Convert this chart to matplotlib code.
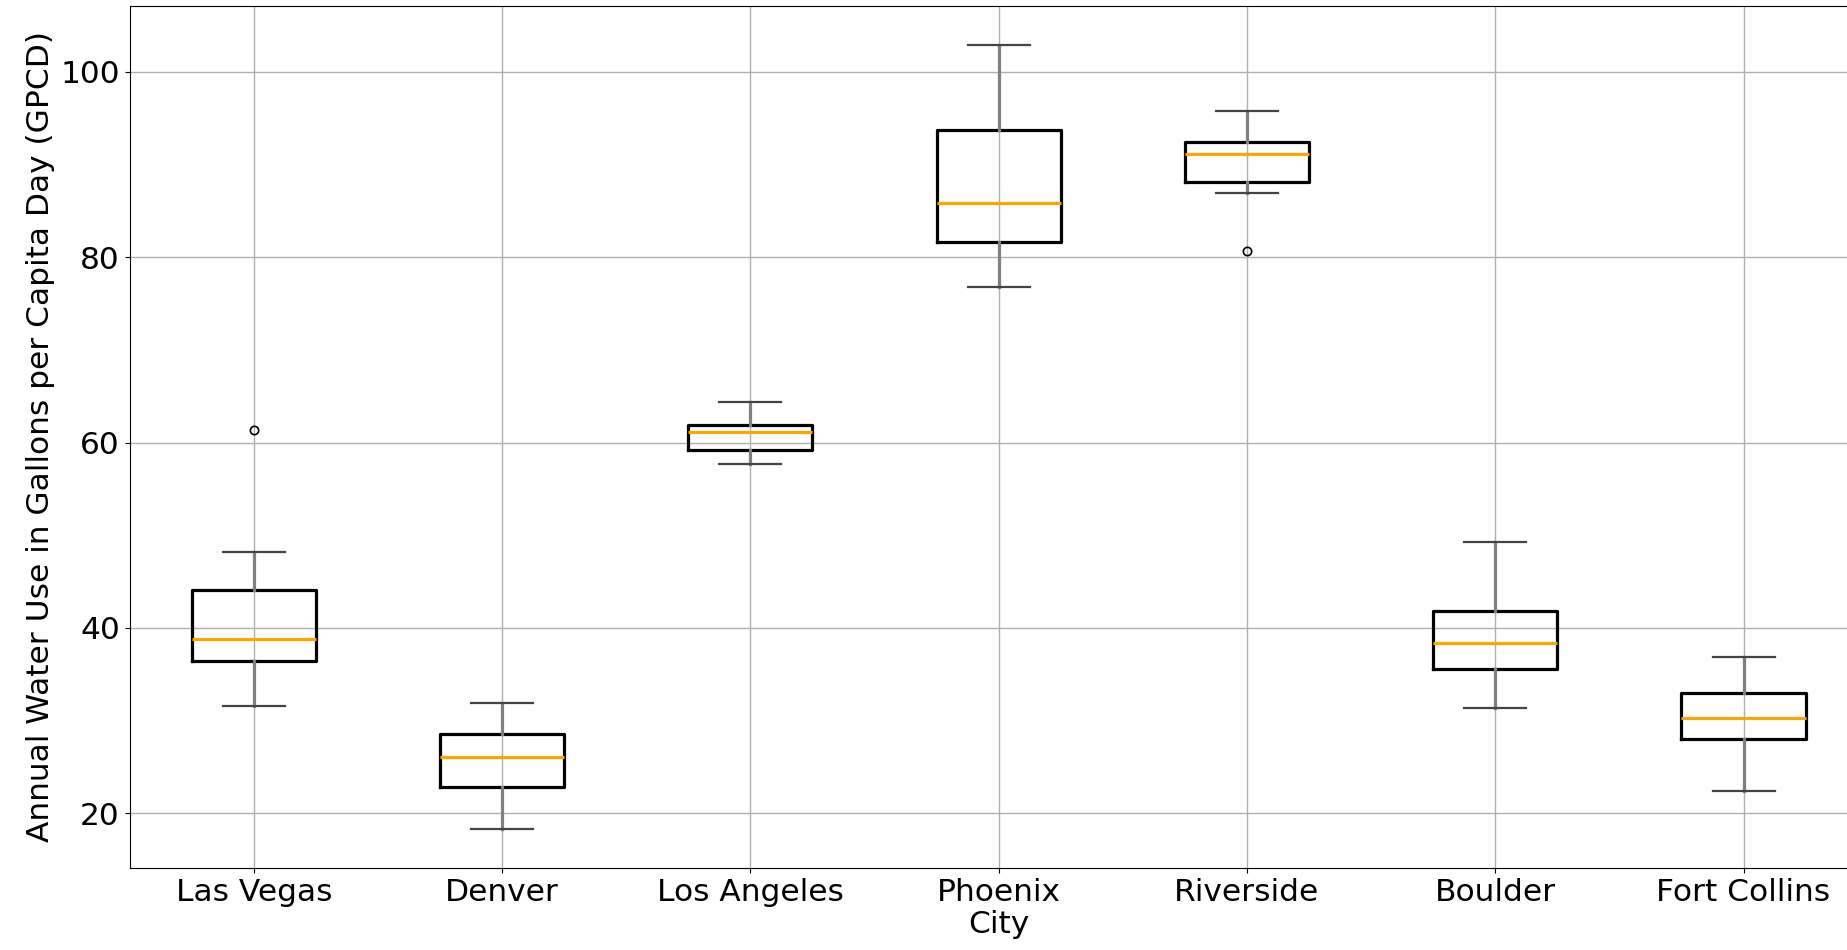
import matplotlib
matplotlib.use("Agg")
import matplotlib.pyplot as plt

cities = ["Las Vegas", "Denver", "Los Angeles", "Phoenix", "Riverside", "Boulder", "Fort Collins"]
whislo = [31.6, 18.3, 57.7, 76.8, 86.9, 31.3, 22.4]
q1 = [36.4, 22.8, 59.2, 81.6, 88.1, 35.6, 28.0]
med = [38.8, 26.1, 61.1, 85.8, 91.1, 38.4, 30.3]
q3 = [44.1, 28.5, 61.9, 93.7, 92.4, 41.8, 33.0]
whishi = [48.2, 31.9, 64.4, 102.9, 95.8, 49.3, 36.9]
outliers = [[61.4], [], [], [], [80.7], [], []]

stats = []
for i, name in enumerate(cities):
    stats.append({"label": name, "whislo": whislo[i], "q1": q1[i], "med": med[i],
                  "q3": q3[i], "whishi": whishi[i], "fliers": outliers[i]})

fig = plt.figure(figsize=(18.47, 9.5), dpi=100)
ax = fig.add_axes([0.0702, 0.0863, 0.941, 0.9075])

ax.bxp(stats, widths=0.5,
       boxprops=dict(color="black", linewidth=2.3),
       medianprops=dict(color="orange", linewidth=2.3),
       whiskerprops=dict(color="gray", linewidth=2.3),
       capprops=dict(color="#444444", linewidth=1.6),
       flierprops=dict(marker="o", markerfacecolor="none", markeredgecolor="black",
                       markersize=6, markeredgewidth=1.2))

ax.grid(True, color="#b0b0b0", linewidth=1.0)
ax.set_xlim(0.5, 7.5)
ax.set_xlabel("City", fontsize=22.5, labelpad=2)
ax.set_ylabel("Annual Water Use in Gallons per Capita Day (GPCD)", fontsize=22.5)
ax.tick_params(labelsize=22.5)

fig.savefig("out.png", dpi=100)
